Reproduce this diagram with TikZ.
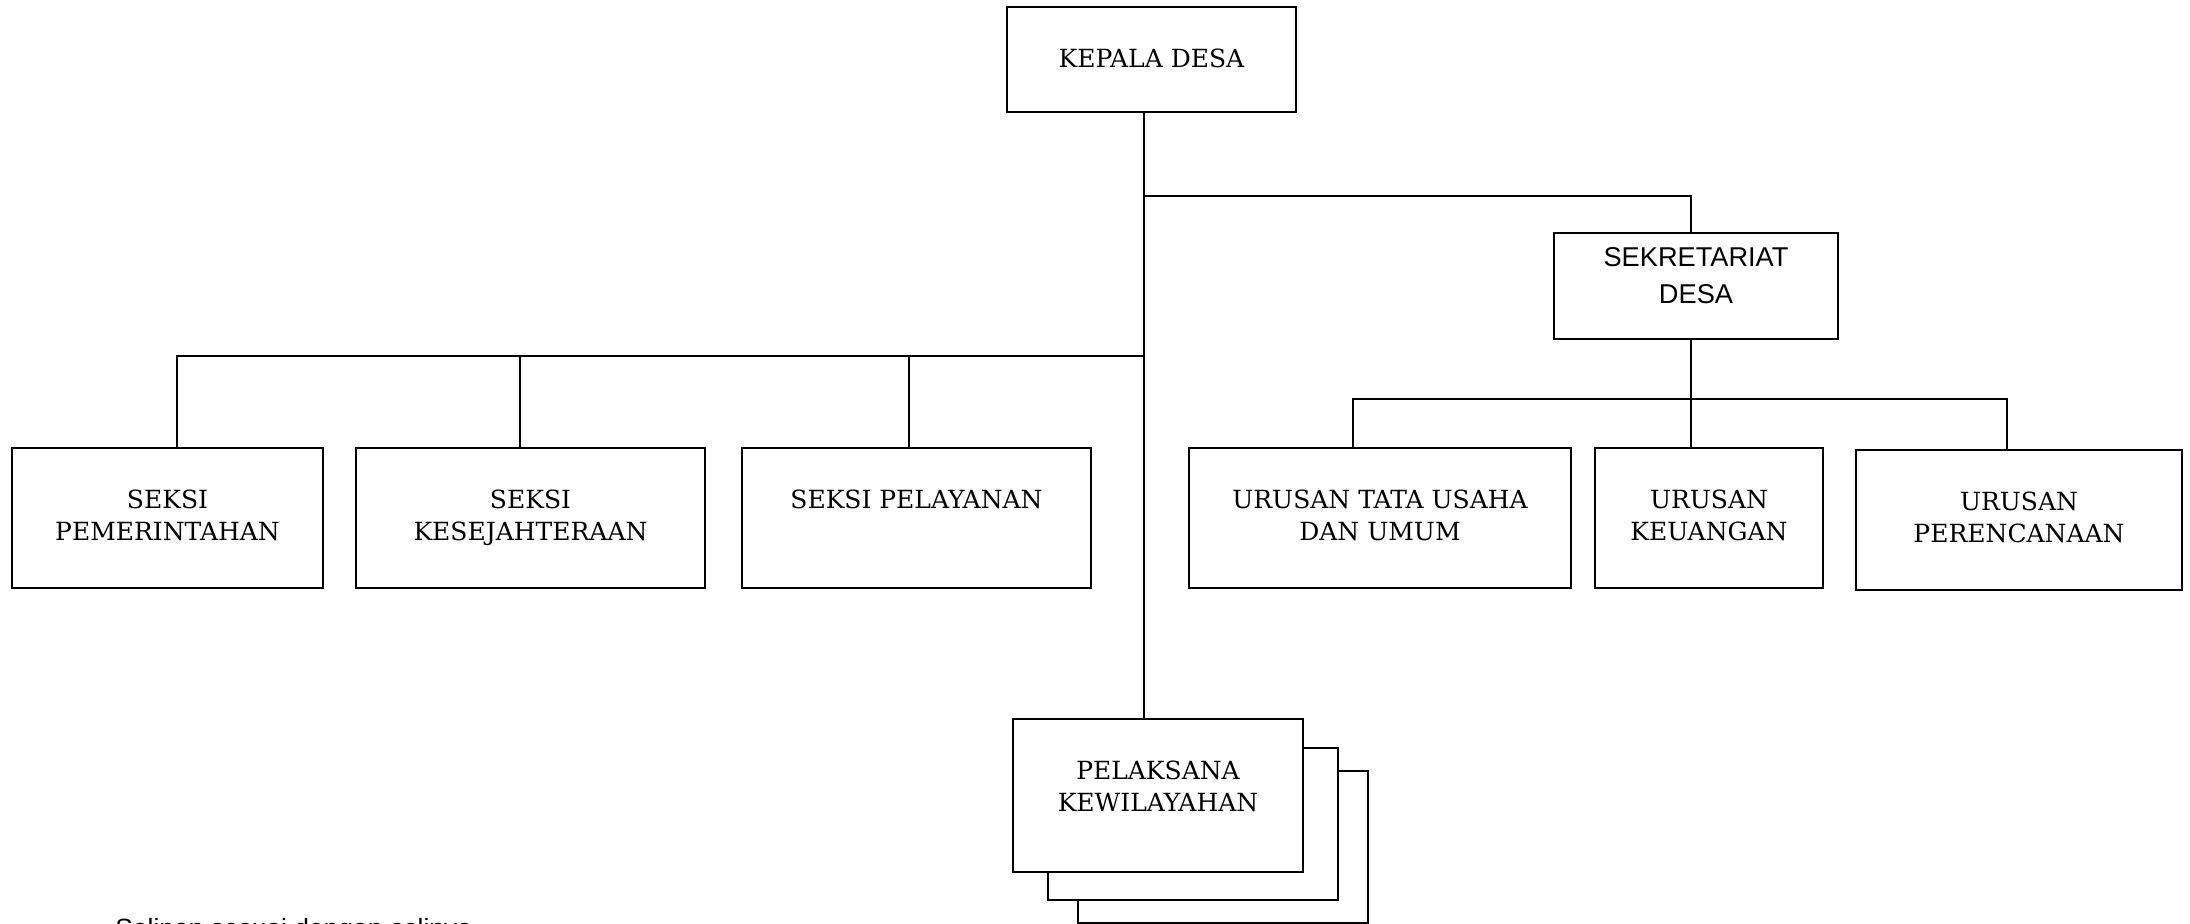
\documentclass[tikz,border=0pt]{standalone}
\usepackage{fontspec}
\setmainfont{DejaVu Serif}
\newfontfamily\arialfont{Liberation Sans}

\tikzset{
  unit/.style={draw, line width=0.9pt, fill=white, inner sep=0pt, minimum height=70pt},
  lbl/.style={anchor=north, align=center, inner sep=0pt, yshift=-21.2pt, font=\fontsize{12.5}{16}\selectfont},
  lblsans/.style={anchor=north, align=center, inner sep=0pt, yshift=-7.6pt, font=\arialfont\fontsize{13.6}{18.5}\selectfont},
  link/.style={line width=0.9pt},
}

\begin{document}
\begin{tikzpicture}[x=0.5pt, y=-0.5pt]
  \useasboundingbox (0,0) rectangle (2190,924);
  % top
  \node[unit, minimum width=144.5pt, minimum height=52.5pt, label={[lbl]north:KEPALA DESA}] (kades) at (1151.5,59.5) {};
  \node[unit, minimum width=142pt, minimum height=53pt, label={[lblsans]north:SEKRETARIAT\\DESA}] (sekdes) at (1696,286) {};
  % seksi
  \node[unit, minimum width=155.5pt, label={[lbl]north:SEKSI\\PEMERINTAHAN}] (sp) at (167.5,518) {};
  \node[unit, minimum width=174.5pt, label={[lbl]north:SEKSI\\KESEJAHTERAAN}] (sk) at (530.5,518) {};
  \node[unit, minimum width=174.5pt, label={[lbl]north:SEKSI PELAYANAN}] (spl) at (916.5,518) {};
  % urusan
  \node[unit, minimum width=191pt, label={[lbl]north:URUSAN TATA USAHA\\DAN UMUM}] (ut) at (1380,518) {};
  \node[unit, minimum width=114pt, label={[lbl]north:URUSAN\\KEUANGAN}] (ku) at (1709,518) {};
  \node[unit, minimum width=163pt, label={[lbl]north:URUSAN\\PERENCANAAN}] (ur) at (2019,520) {};
  % pelaksana kewilayahan (stacked)
  \node[unit, minimum width=145pt, minimum height=76pt] (pel3) at (1223,847) {};
  \node[unit, minimum width=145pt, minimum height=76pt] (pel2) at (1193,824) {};
  \node[unit, minimum width=145pt, minimum height=76.5pt, label={[lbl]north:PELAKSANA\\KEWILAYAHAN}] (pel) at (1158,795.5) {};

  % lines
  \coordinate (busK) at (1144,196);
  \coordinate (busS) at (1144,356);
  \coordinate (busU) at (1691,399);
  \draw[link] (kades.south -| busK) -- (pel.north -| busK);
  \draw[link] (busK) -| ([xshift=-2.5pt]sekdes.north);
  \draw[link] ([xshift=4.75pt]sp.north) |- (busS);
  \draw[link] ([xshift=-5.25pt]sk.north) -- ([xshift=-5.25pt]sk.north |- busS);
  \draw[link] ([xshift=-3.75pt]spl.north) -- ([xshift=-3.75pt]spl.north |- busS);
  \draw[link] (sekdes.south -| busU) -- ([yshift=-1pt]ku.north -| busU);
  \draw[link] ([xshift=-13.5pt]ut.north) |- (busU) -| ([xshift=-6pt]ur.north);

  \node[anchor=base west, inner sep=0pt, font=\arialfont\fontsize{13.2}{15}\selectfont] (salinan) at (115,937) {Salinan sesuai dengan aslinya};
\end{tikzpicture}
\end{document}
